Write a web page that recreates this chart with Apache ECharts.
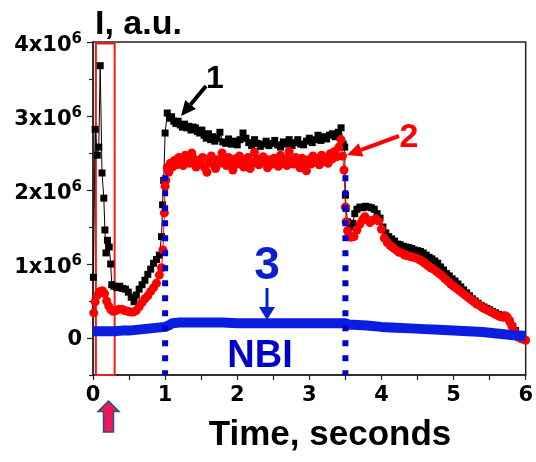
<!DOCTYPE html>
<html>
<head>
<meta charset="utf-8">
<script src="https://cdn.jsdelivr.net/npm/echarts@6/dist/echarts.min.js"></script>
<style>
  html, body { margin: 0; padding: 0; background: #fff; }
  #chart { width: 536px; height: 462px; }
</style>
</head>
<body>
<div id="chart"></div>
<script>
// Emission intensity (units of 10^6, a.u.) versus time in seconds.
// Trace 1: black squares
const time1 = [0.005,0.03,0.06,0.08,0.10,0.125,0.15,0.165,0.18,0.20,0.225,0.245,0.26,0.29,0.33,0.37,0.41,0.45,0.49,0.53,0.57,0.60,0.64,0.68,0.72,0.76,0.80,0.84,0.88,0.92,0.95,0.965,0.98,1.00,1.03,
  1.06,1.09,1.12,1.15,1.18,1.21,1.24,1.27,1.30,1.33,1.36,1.39,1.42,1.45,1.48,1.51,1.54,1.57,1.60,1.63,1.66,1.69,1.72,1.76,1.80,1.84,1.88,1.92,1.96,2.00,
  2.04,2.08,2.12,2.16,2.20,2.24,2.28,2.32,2.36,2.40,2.44,2.48,2.52,2.56,2.60,2.64,2.68,2.72,2.76,2.80,2.84,2.88,2.92,2.96,3.00,
  3.04,3.08,3.12,3.16,3.20,3.24,3.28,3.32,3.36,3.40,3.44,3.47,3.49,3.50,3.51,
  3.53,3.56,3.60,3.63,3.66,3.70,3.74,3.78,3.82,3.86,3.90,3.94,3.98,4.02,4.06,4.10,4.14,4.18,4.22,4.26,4.30,4.34,4.38,4.42,4.46,4.50,
  4.54,4.58,4.62,4.66,4.70,4.74,4.78,4.82,4.86,4.90,4.94,4.98,5.02,5.06,5.10,5.14,5.18,5.22,5.26,5.30,5.34,5.38,5.42,5.46,5.50,
  5.54,5.58,5.62,5.66,5.70,5.74,5.78,5.82,5.86,5.90,5.94];
const signal1 = [0.82,2.82,2.47,2.58,3.68,2.23,1.89,1.46,1.15,1.32,1.23,1.00,0.72,0.70,0.68,0.70,0.67,0.66,0.62,0.55,0.49,0.58,0.66,0.72,0.78,0.86,0.93,1.01,1.06,1.12,1.37,1.80,2.13,2.77,3.04,
  2.97,2.99,2.93,2.90,2.93,2.88,2.85,2.89,2.84,2.86,2.81,2.85,2.84,2.79,2.77,2.81,2.74,2.70,2.76,2.68,2.72,2.66,2.70,2.78,2.65,2.63,2.69,2.62,2.66,2.61,
  2.68,2.77,2.70,2.64,2.60,2.68,2.63,2.59,2.62,2.66,2.60,2.63,2.67,2.61,2.58,2.65,2.62,2.68,2.60,2.64,2.68,2.62,2.61,2.66,2.70,
  2.64,2.68,2.74,2.67,2.72,2.69,2.74,2.76,2.72,2.78,2.84,2.62,2.58,1.93,1.75,
  1.57,1.50,1.55,1.68,1.74,1.77,1.76,1.78,1.77,1.76,1.74,1.68,1.62,1.50,1.42,1.37,1.34,1.31,1.27,1.26,1.24,1.23,1.22,1.21,1.19,1.18,
  1.17,1.15,1.12,1.09,1.07,1.04,1.01,0.96,0.92,0.87,0.84,0.80,0.77,0.73,0.69,0.65,0.61,0.57,0.53,0.50,0.47,0.44,0.42,0.40,0.38,
  0.36,0.34,0.32,0.31,0.30,0.28,0.23,0.16,0.10,0.05,0.01];

// Trace 2: red circles
const time2 = [0.01,0.03,0.06,0.10,0.13,0.16,0.19,0.22,0.25,0.28,0.32,0.36,0.40,0.44,0.48,0.52,0.56,0.60,0.64,0.68,0.72,0.76,0.80,0.84,0.88,0.92,0.95,0.97,0.99,1.00,
  1.01,1.03,1.05,1.07,1.10,1.13,1.16,1.19,1.22,1.25,1.28,1.31,1.34,1.37,1.40,1.43,1.46,1.49,1.52,1.55,1.58,1.61,1.64,1.67,1.70,1.73,1.76,1.79,1.82,1.85,1.88,1.91,1.94,1.97,
  2.00,2.03,2.06,2.09,2.12,2.15,2.18,2.21,2.24,2.27,2.30,2.33,2.36,2.39,2.42,2.45,2.48,2.51,2.54,2.57,2.60,2.63,2.66,2.69,2.72,2.75,2.78,2.81,2.84,2.87,2.90,2.93,2.96,2.99,
  3.02,3.05,3.08,3.11,3.14,3.17,3.20,3.23,3.26,3.29,3.32,3.35,3.38,3.41,3.44,3.46,3.48,3.50,3.51,3.53,
  3.55,3.58,3.62,3.66,3.70,3.74,3.77,3.80,3.84,3.88,3.92,3.96,4.00,4.04,4.08,4.12,4.16,4.20,4.24,4.28,4.32,4.36,4.40,4.44,4.48,4.52,4.56,4.60,
  4.64,4.68,4.72,4.76,4.80,4.84,4.88,4.92,4.96,5.00,5.04,5.08,5.12,5.16,5.20,5.24,5.28,5.32,5.36,5.40,5.44,5.48,5.52,5.56,5.60,5.64,5.68,
  5.72,5.75,5.78,5.81,5.84,5.87,5.90,5.94,5.98,6.00];
const signal2 = [0.34,0.49,0.58,0.63,0.64,0.60,0.50,0.43,0.38,0.36,0.37,0.39,0.39,0.37,0.36,0.35,0.35,0.37,0.42,0.48,0.53,0.57,0.63,0.68,0.74,0.85,0.95,1.19,1.69,2.05,
  2.13,2.30,2.24,2.36,2.31,2.40,2.34,2.44,2.38,2.33,2.47,2.40,2.36,2.50,2.42,2.31,2.40,2.35,2.44,2.30,2.24,2.38,2.46,2.34,2.29,2.41,2.36,2.50,2.39,2.33,2.44,2.37,2.27,2.42,
  2.35,2.46,2.40,2.31,2.38,2.44,2.29,2.36,2.51,2.42,2.34,2.39,2.45,2.37,2.30,2.41,2.35,2.43,2.38,2.32,2.47,2.36,2.42,2.33,2.52,2.40,2.35,2.44,2.39,2.30,2.43,2.36,2.26,2.41,
  2.35,2.46,2.37,2.42,2.34,2.47,2.39,2.44,2.36,2.49,2.42,2.52,2.45,2.58,2.68,2.46,2.27,1.77,1.57,1.45,
  1.39,1.36,1.37,1.46,1.54,1.60,1.64,1.60,1.56,1.59,1.61,1.58,1.47,1.35,1.29,1.25,1.22,1.19,1.16,1.15,1.12,1.11,1.10,1.09,1.08,1.06,1.04,1.01,
  0.98,0.95,0.93,0.90,0.87,0.84,0.80,0.77,0.73,0.70,0.67,0.64,0.61,0.58,0.55,0.52,0.49,0.46,0.44,0.41,0.39,0.37,0.35,0.33,0.31,0.29,0.28,
  0.30,0.27,0.22,0.16,0.10,0.05,0.01,-0.01,-0.02,-0.03];

// Trace 3: blue band
const time3 = [0.0,0.1,0.2,0.3,0.4,0.5,0.6,0.7,0.8,0.9,1.0,1.05,1.1,1.2,1.4,1.6,1.8,2.0,2.2,2.4,2.6,2.8,3.0,3.2,3.4,3.5,3.55,3.6,3.8,4.0,4.2,4.4,4.6,4.8,5.0,5.2,5.4,5.6,5.7,5.8,5.9,6.0];
const signal3 = [0.09,0.09,0.09,0.09,0.10,0.10,0.11,0.12,0.13,0.14,0.15,0.17,0.20,0.21,0.21,0.21,0.21,0.20,0.20,0.20,0.20,0.20,0.20,0.20,0.20,0.20,0.18,0.18,0.17,0.15,0.14,0.13,0.12,0.11,0.10,0.09,0.08,0.06,0.05,0.04,0.03,0.03];

// NBI start / stop markers
const nbiTimes = [1.0, 3.5];
const nbiTop = 2.2;

// Highlighted early window
const windowTimes = [0.04, 0.3];

const yMajorTicks = [0, 1, 2, 3, 4];
const yMinorTicks = [-0.5, 0.5, 1.5, 2.5, 3.5];
const yMin = -0.5, yMax = 4;

const pairs = (xs, ys) => xs.map((x, i) => [x, ys[i]]);

const chart = echarts.init(document.getElementById('chart'), null, { renderer: 'canvas' });

const tickFont = 'DejaVu Sans';
const titleFont = 'Liberation Sans, Arial, sans-serif';

function arrow(x1, y1, x2, y2, color, width, headLen, headW) {
  const dx = x2 - x1, dy = y2 - y1;
  const len = Math.hypot(dx, dy);
  const ux = dx / len, uy = dy / len;
  const bx = x2 - ux * headLen, by = y2 - uy * headLen;
  const px = -uy * headW / 2, py = ux * headW / 2;
  return [
    { type: 'line', z: 100, shape: { x1, y1, x2: bx, y2: by }, style: { stroke: color, lineWidth: width } },
    { type: 'polygon', z: 100, shape: { points: [[x2, y2], [bx + px, by + py], [bx - px, by - py]] }, style: { fill: color } }
  ];
}

const nbiSeries = nbiTimes.map(t => ({
  type: 'line',
  data: [[t, nbiTop], [t, yMin]],
  showSymbol: false,
  silent: true,
  z: 6,
  lineStyle: { color: '#0000cc', width: 6, type: [6, 9], cap: 'butt' }
}));

chart.setOption({
  animation: false,
  backgroundColor: '#fff',
  grid: { left: 93, right: 9, top: 42, bottom: 87, show: true, borderColor: '#222', borderWidth: 1.5, backgroundColor: 'transparent' },
  xAxis: {
    type: 'value', min: 0, max: 6, interval: 1,
    axisLine: { show: true, onZero: false, lineStyle: { color: '#222', width: 1.5 } },
    axisTick: { show: true, inside: false, length: 5, lineStyle: { color: '#222', width: 1.2 } },
    minorTick: { show: true, splitNumber: 2, length: 5, lineStyle: { color: '#222', width: 1.2 } },
    splitLine: { show: false },
    axisLabel: { color: '#000', fontFamily: tickFont, fontWeight: 'bold', fontSize: 21, margin: 10 }
  },
  yAxis: [
    {
      type: 'value', min: yMin, max: yMax,
      axisLine: { show: true, onZero: false, lineStyle: { color: '#222', width: 1.5 } },
      axisTick: { show: true, inside: false, length: 6, customValues: yMajorTicks, lineStyle: { color: '#222', width: 1.2 } },
      splitLine: { show: false },
      axisLabel: {
        customValues: yMajorTicks,
        margin: 11,
        formatter: v => v === 0 ? '{z|0}' : '{b|' + v + 'x10}{s|6}',
        rich: {
          z: { fontFamily: tickFont, fontWeight: 'bold', fontSize: 21, color: '#000' },
          b: { fontFamily: tickFont, fontWeight: 'bold', fontSize: 21, lineHeight: 24, color: '#000', verticalAlign: 'bottom' },
          s: { fontFamily: tickFont, fontWeight: 'bold', fontSize: 15, lineHeight: 14, color: '#000', verticalAlign: 'top' }
        },
        padding: [4, 0, 0, 0]
      }
    },
    {
      type: 'value', min: yMin, max: yMax, position: 'left',
      axisLine: { show: false },
      axisTick: { show: true, inside: false, length: 4, customValues: yMinorTicks, lineStyle: { color: '#222', width: 1.2 } },
      splitLine: { show: false },
      axisLabel: { show: false }
    }
  ],
  series: [
    {
      type: 'line', name: '1',
      data: pairs(time1, signal1),
      symbol: 'rect', symbolSize: 7,
      itemStyle: { color: '#000' },
      lineStyle: { color: '#000', width: 1 },
      z: 2
    },
    {
      type: 'line', name: '2',
      data: pairs(time2, signal2),
      symbol: 'circle', symbolSize: 9,
      itemStyle: { color: '#ff0000' },
      lineStyle: { color: '#ff0000', width: 1 },
      z: 3,
      markArea: {
        silent: true,
        itemStyle: { color: 'rgba(0,0,0,0)', borderColor: '#ee1c1c', borderWidth: 2 },
        data: [[{ xAxis: windowTimes[0], yAxis: 3.98 }, { xAxis: windowTimes[1], yAxis: yMin }]]
      }
    },
    {
      type: 'line', name: '3',
      data: pairs(time3, signal3),
      showSymbol: false,
      lineStyle: { color: '#0a1ee0', width: 10 },
      z: 4
    },
    ...nbiSeries
  ],
  graphic: [
    { type: 'text', z: 100, style: { text: 'I, a.u.', x: 95, y: 25, verticalAlign: 'middle', align: 'left', font: 'bold 34px ' + titleFont, fill: '#000' } },
    { type: 'text', z: 100, style: { text: 'Time, seconds', x: 330, y: 435, verticalAlign: 'middle', align: 'center', font: 'bold 35px ' + titleFont, fill: '#000' } },
    { type: 'text', z: 100, style: { text: '1', x: 215, y: 79, verticalAlign: 'middle', align: 'center', font: 'bold 32px ' + titleFont, fill: '#000' } },
    { type: 'text', z: 100, style: { text: '2', x: 409, y: 138, verticalAlign: 'middle', align: 'center', font: 'bold 34px ' + titleFont, fill: '#ff0000' } },
    { type: 'text', z: 100, style: { text: '3', x: 267, y: 266, verticalAlign: 'middle', align: 'center', font: 'bold 46px ' + titleFont, fill: '#0a1ecc' } },
    { type: 'text', z: 100, style: { text: 'NBI', x: 260, y: 357, verticalAlign: 'middle', align: 'center', font: 'bold 38px ' + titleFont, fill: '#0000cc' } },
    ...arrow(206, 86, 181, 116, '#000', 4, 15, 14),
    ...arrow(399, 136, 347, 155, '#ff0000', 4, 15, 14),
    ...arrow(267, 288, 267, 320, '#0a1ecc', 3, 13, 16),
    {
      type: 'polygon', z: 100,
      shape: { points: [[108.5, 401], [98, 411.5], [103.5, 411.5], [103.5, 432], [113.5, 432], [113.5, 411.5], [119, 411.5]] },
      style: { fill: '#f0145a', stroke: '#1e5a78', lineWidth: 1.5 }
    }
  ]
});
</script>
</body>
</html>
